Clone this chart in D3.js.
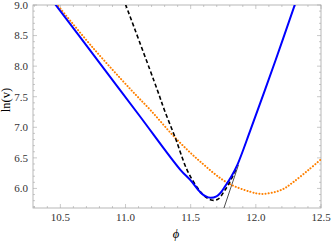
<!DOCTYPE html>
<html>
<head>
<meta charset="utf-8">
<script src="https://cdn.jsdelivr.net/npm/d3@7"></script>
<style>
  body { margin: 0; background: #fff; }
  svg { display: block; font-family: "Liberation Serif", "DejaVu Serif", serif; }
</style>
</head>
<body>
<div id="chart"></div>
<script>
// curves (phi, ln v)
const bluePhi = [10.459, 10.75, 11.1, 11.421, 11.498, 11.575, 11.613, 11.652, 11.698, 11.728, 11.767, 11.813, 11.859, 11.959, 12.152, 12.3];
const blueLn  = [9.016, 8.196, 7.209, 6.304, 6.135, 5.935, 5.874, 5.846, 5.871, 5.925, 6.045, 6.2, 6.39, 6.958, 8.101, 9.01];

const dashPhi = [11.0, 11.244, 11.298, 11.382, 11.472, 11.552, 11.613, 11.667, 11.713, 11.759, 11.805, 11.852];
const dashLn  = [9.01, 7.611, 7.284, 6.827, 6.304, 6.010, 5.863, 5.806, 5.830, 5.961, 6.124, 6.337];

const orangePhi = [10.47, 10.75, 11.036, 11.19, 11.382, 11.575, 11.782, 11.959, 12.03, 12.113, 12.205, 12.282, 12.405, 12.513];
const orangeLn  = [9.02, 8.30, 7.627, 7.284, 6.827, 6.435, 6.092, 5.944, 5.912, 5.925, 5.985, 6.095, 6.304, 6.5];

const linePhi = [11.749, 11.867];
const lineLn  = [5.64, 6.386];

const xTicks = [10.5, 11.0, 11.5, 12.0, 12.5];
const yTicks = [6.0, 6.5, 7.0, 7.5, 8.0, 8.5, 9.0];

const width = 332, height = 241;
const margin = {top: 5, right: 11, bottom: 33, left: 33};

const svg = d3.select('#chart')
  .append('svg')
  .attr('width', width)
  .attr('height', height);

const x = d3.scaleLinear().domain([10.29, 12.5]).range([margin.left, width - margin.right]);
const y = d3.scaleLinear().domain([5.68, 9.0]).range([height - margin.bottom, margin.top]);

const frameCol = '#a6a6a6';

// minor ticks every 0.1
const xMinor = d3.range(103, 126).map(d => d / 10);
const yMinor = d3.range(57, 91).map(d => d / 10);
const isMajor = v => Math.abs(v * 2 - Math.round(v * 2)) < 1e-6;

const tickG = svg.append('g').attr('stroke', frameCol).attr('stroke-width', 0.6);
xMinor.forEach(v => {
  const len = isMajor(v) ? 4 : 2;
  tickG.append('line').attr('x1', x(v)).attr('x2', x(v)).attr('y1', y.range()[0]).attr('y2', y.range()[0] - len);
  tickG.append('line').attr('x1', x(v)).attr('x2', x(v)).attr('y1', y.range()[1]).attr('y2', y.range()[1] + len);
});
yMinor.forEach(v => {
  const len = isMajor(v) ? 4 : 2;
  tickG.append('line').attr('y1', y(v)).attr('y2', y(v)).attr('x1', x.range()[0]).attr('x2', x.range()[0] + len);
  tickG.append('line').attr('y1', y(v)).attr('y2', y(v)).attr('x1', x.range()[1]).attr('x2', x.range()[1] - len);
});

svg.append('rect')
  .attr('x', x.range()[0]).attr('y', y.range()[1])
  .attr('width', x.range()[1] - x.range()[0])
  .attr('height', y.range()[0] - y.range()[1])
  .attr('fill', 'none').attr('stroke', frameCol).attr('stroke-width', 0.8);

// tick labels
svg.append('g').selectAll('text').data(xTicks).join('text')
  .attr('x', d => x(d)).attr('y', y.range()[0] + 13)
  .attr('text-anchor', 'middle').attr('font-size', 11).attr('fill', '#333')
  .text(d => d.toFixed(1));
svg.append('g').selectAll('text').data(yTicks).join('text')
  .attr('x', x.range()[0] - 5).attr('y', d => y(d) + 3.8)
  .attr('text-anchor', 'end').attr('font-size', 11).attr('fill', '#333')
  .text(d => d.toFixed(1));

// axis labels
svg.append('text')
  .attr('x', 176).attr('y', 238)
  .attr('text-anchor', 'middle').attr('font-size', 12.5).attr('font-style', 'italic')
  .text('\u03D5');
svg.append('text')
  .attr('transform', 'translate(10,100) rotate(-90)')
  .attr('text-anchor', 'middle').attr('font-size', 12.5)
  .text('ln(v)');

// curves
svg.append('clipPath').attr('id', 'clip')
  .append('rect')
  .attr('x', x.range()[0]).attr('y', y.range()[1])
  .attr('width', x.range()[1] - x.range()[0])
  .attr('height', y.range()[0] - y.range()[1]);

const plot = svg.append('g').attr('clip-path', 'url(#clip)');
const line = d3.line().x(d => x(d[0])).y(d => y(d[1])).curve(d3.curveCatmullRom.alpha(0.5));
const pts = (a, b) => a.map((v, i) => [v, b[i]]);

plot.append('path').datum(pts(linePhi, lineLn))
  .attr('d', line).attr('fill', 'none').attr('stroke', '#000').attr('stroke-width', 0.7);

plot.append('path').datum(pts(orangePhi, orangeLn))
  .attr('d', line).attr('fill', 'none').attr('stroke', '#ff8000')
  .attr('stroke-width', 2).attr('stroke-linecap', 'round').attr('stroke-dasharray', '0.1 3');

plot.append('path').datum(pts(dashPhi, dashLn))
  .attr('d', line).attr('fill', 'none').attr('stroke', '#000')
  .attr('stroke-width', 1.6).attr('stroke-dasharray', '4 2.5');

plot.append('path').datum(pts(bluePhi, blueLn))
  .attr('d', line).attr('fill', 'none').attr('stroke', '#0000ff').attr('stroke-width', 2);
</script>
</body>
</html>
